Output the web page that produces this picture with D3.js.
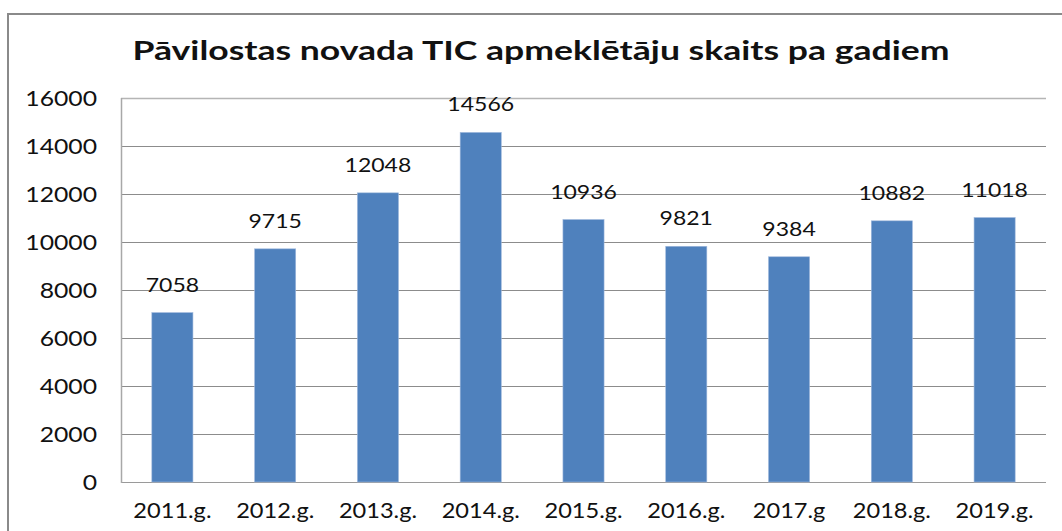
<!DOCTYPE html>
<html>
<head>
<meta charset="utf-8">
<script src="https://cdn.jsdelivr.net/npm/d3@7"></script>
<style>
  html, body { margin: 0; padding: 0; background: #fff; }
  svg { display: block; }
  text { font-family: Lato, "Open Sans", "Liberation Sans", sans-serif; fill: #111; }
</style>
</head>
<body>
<svg id="chart" width="1062" height="531"></svg>
<script>
const title = "Pāvilostas novada TIC apmeklētāju skaits pa gadiem";
const categories = ["2011.g.", "2012.g.", "2013.g.", "2014.g.", "2015.g.", "2016.g.", "2017.g", "2018.g.", "2019.g."];
const visitors = [7058, 9715, 12048, 14566, 10936, 9821, 9384, 10882, 11018];
const yTicks = [0, 2000, 4000, 6000, 8000, 10000, 12000, 14000, 16000];

const W = 1062, H = 531;
const plot = { left: 121, right: 1046, top: 98, bottom: 482 };
const STRETCH = 1.15;

const svg = d3.select("#chart");

// outer chart frame (only left and top edges visible)
svg.append("rect")
  .attr("x", 8).attr("y", 14)
  .attr("width", 1200).attr("height", 700)
  .attr("fill", "#fff")
  .attr("stroke", "#8a8a8a").attr("stroke-width", 2);

const x = d3.scaleBand().domain(categories).range([plot.left, plot.right]).paddingInner(0.6).paddingOuter(0.3);
const y = d3.scaleLinear().domain([0, 16000]).range([plot.bottom, plot.top]);

// gridlines
svg.append("g").selectAll("line").data(yTicks).join("line")
  .attr("x1", plot.left).attr("x2", plot.right)
  .attr("y1", d => Math.round(y(d)) + 0.5).attr("y2", d => Math.round(y(d)) + 0.5)
  .attr("stroke", d => d === 0 ? "#9a9a9a" : (d === 16000 ? "#b5b5b5" : "#8c8c8c"))
  .attr("stroke-width", d => d === 16000 ? 1.5 : 1);

// left plot border
svg.append("line")
  .attr("x1", plot.left + 0.5).attr("x2", plot.left + 0.5)
  .attr("y1", plot.top).attr("y2", plot.bottom + 1)
  .attr("stroke", "#a8a8a8").attr("stroke-width", 1.5);

// bars
svg.append("g").selectAll("rect").data(visitors).join("rect")
  .attr("x", (d, i) => x(categories[i]))
  .attr("width", x.bandwidth())
  .attr("y", d => y(d))
  .attr("height", d => y(0) - y(d))
  .attr("fill", "#4f81bd")
  .attr("stroke", "#9fb8dc").attr("stroke-width", 0.6);

// y-axis labels
const yAxis = d3.axisLeft(y).tickValues(yTicks).tickFormat(d3.format("d")).tickSize(0).tickPadding(24);
const gy = svg.append("g").attr("transform", `translate(${plot.left},0)`).call(yAxis);
gy.select(".domain").remove();
gy.selectAll("text")
  .attr("font-size", 21.5).attr("dy", "0.36em")
  .style("font-family", "Lato, 'Open Sans', sans-serif").attr("fill", "#111");

// x-axis labels
const xAxis = d3.axisBottom(x).tickSize(0).tickPadding(0);
const gx = svg.append("g").attr("transform", `translate(0,${plot.bottom})`).call(xAxis);
gx.select(".domain").remove();
gx.selectAll("text")
  .attr("font-size", 20.5).attr("dy", null).attr("y", 36)
  .style("font-family", "Lato, 'Open Sans', sans-serif").attr("fill", "#111");

// data labels
svg.append("g").selectAll("text").data(visitors).join("text")
  .attr("class", "dlabel")
  .attr("x", (d, i) => x(categories[i]) + x.bandwidth() / 2)
  .attr("y", d => y(d) - 21)
  .attr("text-anchor", "middle")
  .attr("font-size", 20)
  .text(d => d);

// horizontal stretch to mimic the reference's wide glyphs
svg.selectAll("text").each(function () {
  const w = this.getComputedTextLength();
  d3.select(this).attr("textLength", w * STRETCH).attr("lengthAdjust", "spacingAndGlyphs");
});

// title
svg.append("text")
  .attr("class", "title")
  .attr("x", 541).attr("y", 60)
  .attr("text-anchor", "middle")
  .attr("font-size", 26).attr("font-weight", "bold")
  .attr("textLength", 817).attr("lengthAdjust", "spacingAndGlyphs")
  .text(title);
</script>
</body>
</html>
